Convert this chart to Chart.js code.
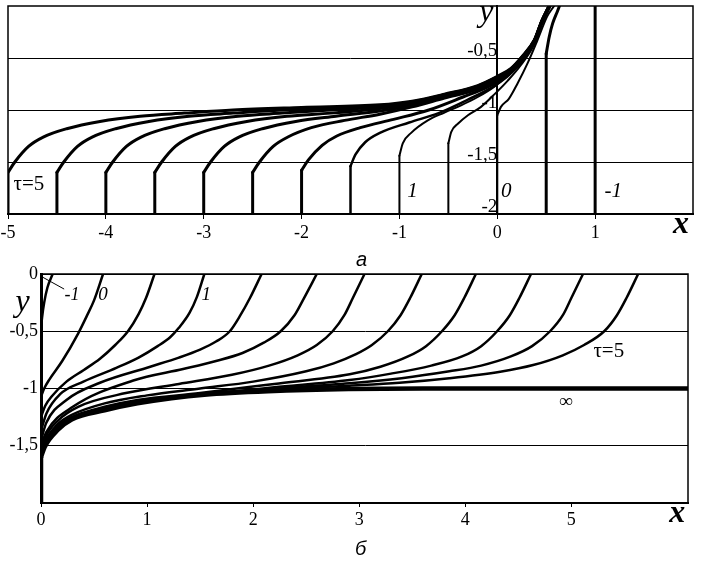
<!DOCTYPE html>
<html lang="ru">
<head>
<meta charset="UTF-8">
<title>y(x, τ)</title>
<script src="https://cdn.jsdelivr.net/npm/chart.js"></script>
<style>
  body { margin: 0; background: #fff; }
  #wrap { position: relative; width: 703px; height: 569px; }
  canvas { position: absolute; left: 0; }
  #topChart { top: 0; }
  #bottomChart { top: 265px; }
  .cap { position: absolute; font: italic 20px "Liberation Sans", Arial, sans-serif; color: #000; }
</style>
</head>
<body>
<div id="wrap">
  <canvas id="topChart" width="703" height="265"></canvas>
  <canvas id="bottomChart" width="703" height="304"></canvas>
  <div class="cap" style="left:356px; top:248px;">а</div>
  <div class="cap" style="left:355px; top:537px;">б</div>
</div>
<script>
const SERIF = '"Liberation Serif", "Times New Roman", serif';

// ---- panel а: curves start at x = -tau ----
const topTau5   = [[-5,-2],[-5,-1.6],[-4.93,-1.5],[-4.79,-1.35],[-4.64,-1.26],[-4.4,-1.18],[-4.06,-1.11],[-3.65,-1.06],[-3.2,-1.03],[-2.7,-1.0],[-2.0,-0.975],[-1.2,-0.95],[-0.87,-0.915],[-0.54,-0.848],[-0.2,-0.765],[0,-0.676],[0.14,-0.6],[0.25,-0.49],[0.38,-0.325],[0.455,-0.142],[0.53,0]];
const topTau4_5 = [[-4.5,-2],[-4.5,-1.6],[-4.43,-1.5],[-4.29,-1.35],[-4.14,-1.26],[-3.9,-1.18],[-3.56,-1.11],[-3.15,-1.06],[-2.7,-1.03],[-2.2,-1.0],[-1.5,-0.975],[-1.2,-0.96],[-0.87,-0.922],[-0.54,-0.852],[-0.2,-0.77],[0,-0.682],[0.14,-0.605],[0.25,-0.493],[0.38,-0.328],[0.455,-0.144],[0.53,0]];
const topTau4   = [[-4,-2],[-4,-1.6],[-3.93,-1.5],[-3.79,-1.35],[-3.64,-1.26],[-3.4,-1.18],[-3.06,-1.11],[-2.65,-1.06],[-2.2,-1.03],[-1.7,-1.0],[-1.2,-0.97],[-0.87,-0.93],[-0.54,-0.856],[-0.2,-0.776],[0,-0.688],[0.14,-0.61],[0.25,-0.496],[0.38,-0.33],[0.455,-0.146],[0.53,0]];
const topTau3_5 = [[-3.5,-2],[-3.5,-1.6],[-3.43,-1.5],[-3.29,-1.35],[-3.14,-1.26],[-2.9,-1.18],[-2.56,-1.11],[-2.15,-1.06],[-1.7,-1.03],[-1.2,-0.985],[-0.87,-0.94],[-0.54,-0.862],[-0.2,-0.782],[0,-0.694],[0.14,-0.615],[0.25,-0.5],[0.38,-0.332],[0.455,-0.148],[0.53,0]];
const topTau3   = [[-3,-2],[-3,-1.6],[-2.93,-1.5],[-2.79,-1.35],[-2.64,-1.26],[-2.4,-1.18],[-2.06,-1.11],[-1.65,-1.06],[-1.2,-1.01],[-0.87,-0.955],[-0.54,-0.87],[-0.2,-0.79],[0,-0.7],[0.14,-0.62],[0.25,-0.505],[0.38,-0.335],[0.455,-0.15],[0.53,0]];
const topTau2_5 = [[-2.5,-2],[-2.5,-1.6],[-2.43,-1.5],[-2.29,-1.35],[-2.14,-1.26],[-1.9,-1.17],[-1.56,-1.1],[-1.2,-1.04],[-0.87,-0.97],[-0.54,-0.885],[-0.2,-0.8],[0,-0.71],[0.14,-0.625],[0.25,-0.51],[0.38,-0.34],[0.455,-0.155],[0.535,0]];
const topTau2   = [[-2,-2],[-2,-1.58],[-1.93,-1.48],[-1.79,-1.34],[-1.64,-1.25],[-1.4,-1.17],[-1.06,-1.09],[-0.7,-1.0],[-0.35,-0.875],[-0.1,-0.78],[0.05,-0.7],[0.16,-0.615],[0.26,-0.505],[0.38,-0.34],[0.455,-0.155],[0.535,0]];
const topTau1_5 = [[-1.5,-2],[-1.5,-1.54],[-1.45,-1.43],[-1.35,-1.31],[-1.2,-1.22],[-0.9,-1.12],[-0.6,-1.03],[-0.3,-0.9],[-0.05,-0.78],[0.1,-0.68],[0.2,-0.59],[0.28,-0.5],[0.38,-0.345],[0.455,-0.16],[0.535,0]];
const topTau1   = [[-1,-2],[-1,-1.44],[-0.966,-1.32],[-0.88,-1.22],[-0.71,-1.1],[-0.54,-1.025],[-0.37,-0.955],[-0.2,-0.875],[-0.03,-0.775],[0.14,-0.635],[0.25,-0.525],[0.38,-0.35],[0.455,-0.165],[0.54,0]];
const topTau0_5 = [[-0.5,-2],[-0.5,-1.32],[-0.47,-1.21],[-0.4,-1.13],[-0.3,-1.05],[-0.166,-0.97],[-0.03,-0.85],[0.105,-0.72],[0.24,-0.57],[0.38,-0.365],[0.46,-0.17],[0.545,0]];
const topTau0   = [[0,-2],[0,-1.05],[0.037,-0.97],[0.12,-0.89],[0.207,-0.745],[0.31,-0.55],[0.41,-0.33],[0.51,-0.1],[0.58,0]];
const topTauM05 = [[0.5,-2],[0.5,-0.46],[0.53,-0.3],[0.565,-0.17],[0.615,-0.05],[0.635,0]];
const topTauM1  = [[1,-2],[1,0]];

// ---- panel б ----
const botTauM05 = [[0,-0.47],[0.01,-0.38],[0.03,-0.25],[0.06,-0.12],[0.11,0]];
const botTau0   = [[0,-1.07],[0.03,-1.0],[0.08,-0.92],[0.2,-0.76],[0.35,-0.52],[0.43,-0.37],[0.5,-0.23],[0.585,0]];
const botTau0_5 = [[0,-1.25],[0.04,-1.15],[0.1,-1.07],[0.24,-0.94],[0.4,-0.84],[0.556,-0.74],[0.7,-0.62],[0.82,-0.5],[0.92,-0.35],[0.99,-0.21],[1.07,0]];
const botTau1   = [[0,-1.37],[0.05,-1.22],[0.18,-1.05],[0.4,-0.94],[0.71,-0.82],[0.92,-0.73],[1.1,-0.63],[1.22,-0.55],[1.3,-0.47],[1.4,-0.34],[1.47,-0.2],[1.54,0]];
const botTau1_5 = [[0,-1.45],[0.05,-1.3],[0.24,-1.1],[0.556,-0.95],[1.03,-0.81],[1.3,-0.73],[1.5,-0.66],[1.65,-0.59],[1.78,-0.5],[1.88,-0.36],[1.97,-0.21],[2.08,0]];
const botTau2   = [[0,-1.5],[0.05,-1.38],[0.3,-1.16],[0.87,-0.93],[1.34,-0.83],[1.65,-0.76],[1.9,-0.69],[2.1,-0.6],[2.26,-0.5],[2.39,-0.36],[2.48,-0.21],[2.6,0]];
const botTau2_5 = [[0,-1.55],[0.04,-1.43],[0.16,-1.28],[0.35,-1.16],[0.8,-1.04],[1.3,-0.96],[1.8,-0.88],[2.15,-0.8],[2.42,-0.71],[2.6,-0.62],[2.75,-0.5],[2.86,-0.36],[2.94,-0.21],[3.05,0]];
const botTau3   = [[0,-1.57],[0.035,-1.47],[0.16,-1.31],[0.29,-1.23],[0.6,-1.13],[1.0,-1.06],[1.5,-1.0],[2.0,-0.94],[2.5,-0.85],[2.76,-0.78],[2.97,-0.7],[3.12,-0.62],[3.27,-0.5],[3.39,-0.36],[3.48,-0.21],[3.59,0]];
const botTau3_5 = [[0,-1.58],[0.035,-1.49],[0.16,-1.33],[0.29,-1.25],[0.6,-1.16],[0.91,-1.1],[1.5,-1.04],[2.2,-0.96],[2.91,-0.876],[3.2,-0.81],[3.46,-0.72],[3.63,-0.63],[3.78,-0.5],[3.9,-0.36],[3.99,-0.21],[4.1,0]];
const botTau4   = [[0,-1.59],[0.035,-1.495],[0.16,-1.34],[0.29,-1.255],[0.6,-1.17],[0.91,-1.11],[1.54,-1.05],[2.2,-0.99],[2.91,-0.926],[3.3,-0.87],[3.68,-0.8],[3.97,-0.72],[4.15,-0.63],[4.3,-0.5],[4.42,-0.36],[4.51,-0.21],[4.62,0]];
const botTau4_5 = [[0,-1.6],[0.035,-1.5],[0.16,-1.345],[0.29,-1.258],[0.6,-1.175],[0.91,-1.115],[1.54,-1.045],[2.2,-1.0],[2.91,-0.955],[3.4,-0.91],[3.85,-0.85],[4.15,-0.8],[4.43,-0.72],[4.63,-0.63],[4.8,-0.5],[4.92,-0.36],[5.0,-0.21],[5.11,0]];
const botTau5   = [[0,-1.6],[0.035,-1.5],[0.16,-1.35],[0.29,-1.26],[0.6,-1.18],[0.91,-1.12],[1.54,-1.045],[2.14,-1.01],[2.91,-0.975],[3.38,-0.95],[3.85,-0.91],[4.33,-0.853],[4.64,-0.795],[4.92,-0.71],[5.12,-0.62],[5.31,-0.5],[5.43,-0.36],[5.52,-0.21],[5.63,0]];
const botTauInf = [[0,-2],[0,-1.6],[0.035,-1.51],[0.16,-1.36],[0.29,-1.27],[0.6,-1.19],[0.91,-1.13],[1.23,-1.085],[1.54,-1.055],[2.14,-1.025],[2.9,-1.005],[3.6,-1.0],[6.1,-1.0]];
const botPointer = [[0.02,-0.03],[0.215,-0.13]];

const yTicksTop = [-2, -1.5, -1, -0.5];
const yTicksBot = [-1.5, -1, -0.5, 0];
const xTicksTop = [-5, -4, -3, -2, -1, 0, 1];
const xTicksBot = [0, 1, 2, 3, 4, 5];

function pts(arr) { return arr.map(p => ({x: p[0], y: p[1]})); }
function seg(arr, w, smooth) {
  return { data: pts(arr), showLine: true, borderColor: '#000', borderWidth: w, pointRadius: 0,
           cubicInterpolationMode: smooth ? 'monotone' : 'default', tension: 0,
           borderCapStyle: 'round', borderJoinStyle: 'round' };
}
// a curve may begin with a vertical piece (same x twice): draw that straight, the rest smooth
function curves(list) {
  const out = [];
  list.forEach(([arr, w]) => {
    let i = 0;
    if (arr.length > 2 && arr[0][0] === arr[1][0]) { out.push(seg(arr.slice(0, 2), w, false)); i = 1; }
    out.push(seg(arr.slice(i), w, arr.length > 2));
  });
  return out;
}
function fmt(v) { return String(v).replace('.', ','); }
function noPad(s) { s.paddingTop = 0; s.paddingBottom = 0; s.paddingLeft = 0; s.paddingRight = 0; }

const deco = {
  id: 'deco',
  afterDraw(chart, args, opts) {
    const {ctx, chartArea: a, scales: {x, y}} = chart;
    ctx.save();
    ctx.strokeStyle = '#000';
    ctx.lineWidth = 1.5;
    ctx.strokeRect(a.left, a.top, a.width, a.height);
    ctx.fillStyle = '#000';
    ctx.textAlign = 'center';
    ctx.textBaseline = 'alphabetic';
    (opts.items || []).forEach(t => {
      ctx.font = t.font;
      ctx.fillText(t.text, x.getPixelForValue(t.x), y.getPixelForValue(t.y));
    });
    ctx.restore();
  }
};

new Chart(document.getElementById('topChart'), {
  type: 'scatter',
  data: {
    datasets: curves([
      [topTau5, 3], [topTau4_5, 3], [topTau4, 3], [topTau3_5, 3], [topTau3, 3],
      [topTau2_5, 3], [topTau2, 3], [topTau1_5, 2.5], [topTau1, 2], [topTau0_5, 2],
      [topTau0, 2], [topTauM05, 3], [topTauM1, 3]
    ])
  },
  options: {
    responsive: false,
    animation: false,
    layout: { padding: { top: 6, left: 8, right: 10, bottom: 0 } },
    plugins: {
      legend: { display: false },
      tooltip: { enabled: false },
      deco: {
        items: [
          { text: 'τ=5', x: -4.786, y: -1.769, font: '21px ' + SERIF },
          { text: '1', x: -0.867, y: -1.837, font: 'italic 21px ' + SERIF },
          { text: '0', x: 0.092, y: -1.837, font: 'italic 21px ' + SERIF },
          { text: '-1', x: 1.184, y: -1.837, font: 'italic 21px ' + SERIF },
          { text: 'y', x: -0.112, y: -0.144, font: 'italic 32px ' + SERIF },
          { text: 'x', x: 1.878, y: -2.183, font: 'bold italic 32px ' + SERIF }
        ]
      }
    },
    scales: {
      x: {
        type: 'linear', min: -5, max: 2,
        afterFit: s => { noPad(s); s.height = 51; },
        afterBuildTicks: s => { s.ticks = xTicksTop.map(v => ({ value: v })); },
        border: { color: '#000', width: 2 },
        grid: { drawOnChartArea: false, color: '#000', tickLength: 5 },
        ticks: { color: '#000', padding: 3, font: { family: SERIF, size: 18 },
                 callback: v => fmt(v) }
      },
      y: {
        type: 'linear', min: -2, max: 0,
        position: { x: 0 },
        afterFit: noPad,
        border: { color: '#000', width: 2 },
        grid: { color: '#000', lineWidth: 1, tickLength: 0 },
        afterBuildTicks: s => { s.ticks = yTicksTop.map(v => ({ value: v })); },
        ticks: { color: '#000', padding: 3, labelOffset: -7, font: { family: SERIF, size: 19 },
                 callback: v => fmt(v) }
      }
    }
  },
  plugins: [deco]
});

new Chart(document.getElementById('bottomChart'), {
  type: 'scatter',
  data: {
    datasets: curves([
      [botTauM05, 2.5], [botTau0, 2.5], [botTau0_5, 2.5], [botTau1, 2.5], [botTau1_5, 2.5],
      [botTau2, 2.5], [botTau2_5, 2.5], [botTau3, 2.5], [botTau3_5, 2.5], [botTau4, 2.5],
      [botTau4_5, 2.5], [botTau5, 2.5], [botTauInf, 4.5], [botPointer, 1]
    ])
  },
  options: {
    responsive: false,
    animation: false,
    layout: { padding: { top: 9, left: 0, right: 15, bottom: 0 } },
    plugins: {
      legend: { display: false },
      tooltip: { enabled: false },
      deco: {
        items: [
          { text: '-1', x: 0.292, y: -0.227, font: 'italic 18px ' + SERIF },
          { text: '0', x: 0.584, y: -0.227, font: 'italic 19px ' + SERIF },
          { text: '1', x: 1.558, y: -0.227, font: 'italic 19px ' + SERIF },
          { text: 'τ=5', x: 5.353, y: -0.725, font: '21px ' + SERIF },
          { text: '∞', x: 4.953, y: -1.162, font: 'bold 19px ' + SERIF },
          { text: 'y', x: -0.174, y: -0.323, font: 'italic 32px ' + SERIF },
          { text: 'x', x: 5.999, y: -2.166, font: 'bold italic 32px ' + SERIF }
        ]
      }
    },
    scales: {
      x: {
        type: 'linear', min: 0, max: 6.1,
        afterFit: s => { noPad(s); s.height = 66; },
        afterBuildTicks: s => { s.ticks = xTicksBot.map(v => ({ value: v })); },
        border: { color: '#000', width: 2 },
        grid: { drawOnChartArea: false, color: '#000', tickLength: 4 },
        ticks: { color: '#000', padding: 2, font: { family: SERIF, size: 18 },
                 callback: v => fmt(v) }
      },
      y: {
        type: 'linear', min: -2, max: 0,
        position: 'left',
        afterFit: s => { noPad(s); s.width = 41; },
        border: { color: '#000', width: 3 },
        grid: { color: '#000', lineWidth: 1, tickLength: 0 },
        afterBuildTicks: s => { s.ticks = yTicksBot.map(v => ({ value: v })); },
        ticks: { color: '#000', padding: 3, font: { family: SERIF, size: 18 },
                 callback: v => fmt(v) }
      }
    }
  },
  plugins: [deco]
});
</script>
</body>
</html>
